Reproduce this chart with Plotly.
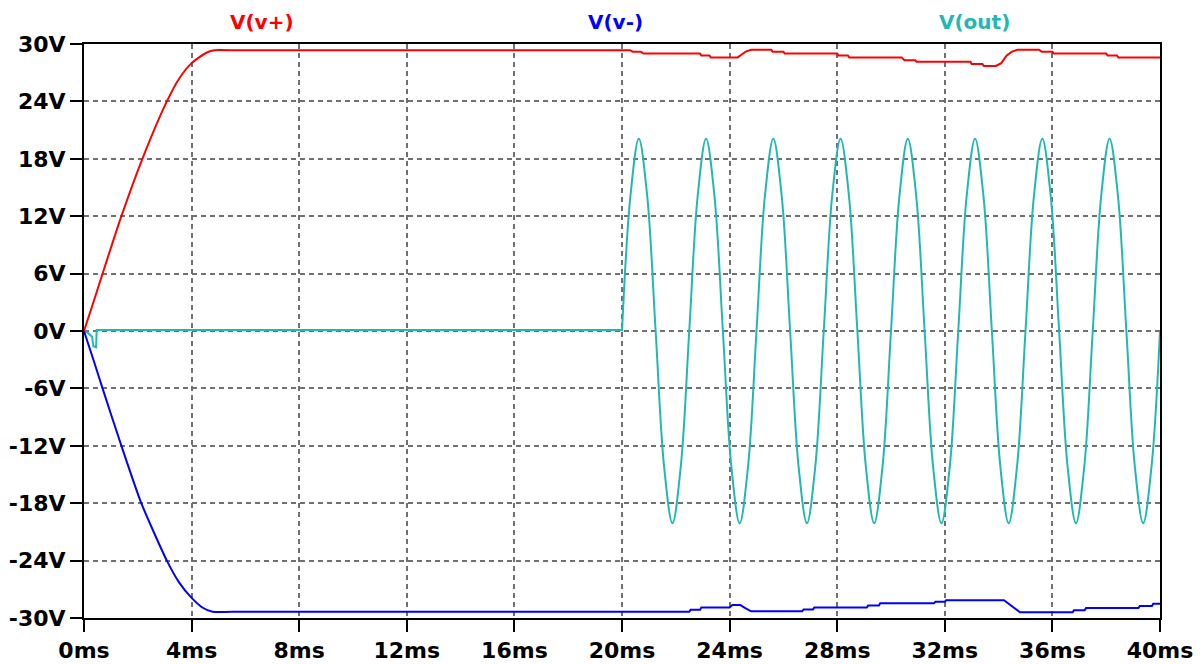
import plotly.graph_objects as go

# ---- data (time in ms, voltage in V) ----
# V(v+): start-up ramp, then supply rail
vp_ramp_t = [0, 0.35, 0.69, 1.39, 2.17, 3.08, 3.54, 4.0, 4.53, 4.84, 5.5]
vp_ramp_v = [0, 3.0, 6.0, 12.0, 18.0, 24.0, 26.4, 28.0, 29.06, 29.35, 29.35]
vp_t = [5.5, 20.3, 20.4, 20.7, 20.8, 22.9, 22.95, 23.25, 23.3, 24.3, 24.45, 24.6, 24.8,
        25.55, 25.6, 26.0, 26.05, 28.0, 28.05, 28.4, 28.45, 30.4, 30.5, 30.9, 30.95,
        32.95, 33.0, 33.4, 33.45, 33.9, 34.1, 34.3, 34.5, 34.7, 35.5, 35.6, 36.0,
        36.05, 38.0, 38.05, 38.4, 38.45, 40.0]
vp_v = [29.35, 29.35, 29.2, 29.2, 29.0, 29.0, 28.8, 28.8, 28.6, 28.6, 28.9, 29.2, 29.4,
        29.4, 29.2, 29.2, 29.0, 29.0, 28.8, 28.8, 28.6, 28.6, 28.3, 28.3, 28.15,
        28.15, 27.9, 27.9, 27.7, 27.7, 28.0, 28.8, 29.2, 29.4, 29.4, 29.2, 29.2,
        29.0, 29.0, 28.8, 28.8, 28.6, 28.6]

# V(v-): start-up ramp, then supply rail
vm_ramp_t = [0, 0.35, 0.69, 1.39, 2.13, 3.08, 3.54, 4.0, 4.4, 4.78, 5.5]
vm_ramp_v = [0, -3.0, -6.0, -12.0, -18.0, -24.0, -26.3, -27.9, -28.9, -29.35, -29.35]
vm_t = [5.5, 22.5, 22.55, 22.9, 22.95, 24.0, 24.1, 24.4, 24.6, 24.8, 26.7, 26.75, 27.1,
        27.15, 29.1, 29.15, 29.55, 29.6, 31.6, 31.65, 32.0, 32.05, 34.2, 34.5, 34.8,
        36.75, 36.8, 37.2, 37.25, 39.2, 39.25, 39.7, 39.75, 40.0]
vm_v = [-29.35, -29.35, -29.15, -29.15, -28.9, -28.9, -28.65, -28.65, -29.0, -29.3, -29.3, -29.1, -29.1,
        -28.9, -28.9, -28.7, -28.7, -28.45, -28.45, -28.3, -28.3, -28.15, -28.15, -28.8, -29.4,
        -29.4, -29.2, -29.2, -28.95, -28.95, -28.75, -28.75, -28.5, -28.5]

# V(out): start-up glitch and idle level, then the sine from 20 ms
out0_t = [0, 0.15, 0.3, 0.35, 0.45, 0.47, 20.0]
out0_v = [0, -0.2, -0.6, -1.6, -1.7, 0.1, 0.1]

out_t = [20.0, 20.3125, 20.625, 20.9375, 21.25, 21.5625, 21.875, 22.1875,
         22.5, 22.8125, 23.125, 23.4375, 23.75, 24.0625, 24.375, 24.6875,
         25.0, 25.3125, 25.625, 25.9375, 26.25, 26.5625, 26.875, 27.1875,
         27.5, 27.8125, 28.125, 28.4375, 28.75, 29.0625, 29.375, 29.6875,
         30.0, 30.3125, 30.625, 30.9375, 31.25, 31.5625, 31.875, 32.1875,
         32.5, 32.8125, 33.125, 33.4375, 33.75, 34.0625, 34.375, 34.6875,
         35.0, 35.3125, 35.625, 35.9375, 36.25, 36.5625, 36.875, 37.1875,
         37.5, 37.8125, 38.125, 38.4375, 38.75, 39.0625, 39.375, 39.6875,
         40.0]
out_v = [0, 14.1, 20.1, 14.1, 0, -14.1, -20.1, -14.1,
         0, 14.1, 20.1, 14.1, 0, -14.1, -20.1, -14.1,
         0, 14.1, 20.1, 14.1, 0, -14.1, -20.1, -14.1,
         0, 14.1, 20.1, 14.1, 0, -14.1, -20.1, -14.1,
         0, 14.1, 20.1, 14.1, 0, -14.1, -20.1, -14.1,
         0, 14.1, 20.1, 14.1, 0, -14.1, -20.1, -14.1,
         0, 14.1, 20.1, 14.1, 0, -14.1, -20.1, -14.1,
         0, 14.1, 20.1, 14.1, 0, -14.1, -20.1, -14.1,
         0]

y_ticks = [-30, -24, -18, -12, -6, 0, 6, 12, 18, 24, 30]
y_labels = ["-30V", "-24V", "-18V", "-12V", "-6V", "0V", "6V", "12V", "18V", "24V", "30V"]
x_ticks = [0, 4, 8, 12, 16, 20, 24, 28, 32, 36, 40]
x_labels = ["0ms", "4ms", "8ms", "12ms", "16ms", "20ms", "24ms", "28ms", "32ms", "36ms", "40ms"]

names = ["V(v+)", "V(v-)", "V(out)"]
colors = ["#ff0000", "#0000ff", "#22b8b2"]

FONT = "DejaVu Sans"


def add_line(x, y, color, spline=False, smoothing=1.0):
    line = dict(color=color, width=2)
    if spline:
        line.update(shape="spline", smoothing=smoothing)
    fig.add_trace(go.Scatter(x=x, y=y, mode="lines", line=line,
                             showlegend=False, hoverinfo="x+y"))


fig = go.Figure()
add_line(out0_t, out0_v, colors[2])
add_line(out_t, out_v, colors[2], spline=True, smoothing=1.0)
add_line(vm_ramp_t, vm_ramp_v, colors[1], spline=True, smoothing=0.6)
add_line(vm_t, vm_v, colors[1])
add_line(vp_ramp_t, vp_ramp_v, colors[0], spline=True, smoothing=0.6)
add_line(vp_t, vp_v, colors[0])

label_x = [0.165, 0.494, 0.828]
for nm, c, lx in zip(names, colors, label_x):
    fig.add_annotation(text=nm, x=lx, y=1.038, xref="paper", yref="paper",
                       showarrow=False, xanchor="center", yanchor="middle",
                       font=dict(family=FONT, size=20, color=c, weight="bold"))

axis_common = dict(
    showline=True, mirror=True, linecolor="black", linewidth=2,
    ticks="outside", ticklen=12, tickwidth=2, tickcolor="black",
    showgrid=True, gridcolor="#707070", gridwidth=1.5, griddash="5px,4px",
    zeroline=False, automargin=False,
    tickfont=dict(family=FONT, size=22, color="black", weight="bold"),
)

fig.update_xaxes(range=[0, 40], tickvals=x_ticks, ticktext=x_labels, **axis_common)
fig.update_yaxes(range=[-30, 30], tickvals=y_ticks, ticktext=y_labels, **axis_common)

# the page adds an 8px body margin, so the figure is sized/margined to compensate
fig.update_layout(
    width=1196, height=656,
    margin=dict(l=76, r=44, t=36, b=46),
    paper_bgcolor="white", plot_bgcolor="white",
    showlegend=False,
)

fig.write_html("out.html")
